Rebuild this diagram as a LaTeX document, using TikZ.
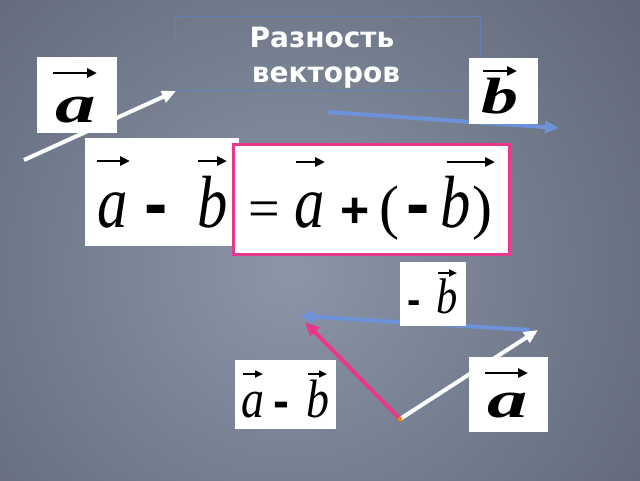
\documentclass[tikz,border=0pt]{standalone}
\usepackage{fontspec}
\usepackage{graphicx}
\setmainfont{Liberation Serif}
\newfontfamily\titlefont{DejaVu Sans}
\newfontfamily\sansfont{Liberation Sans}
\usetikzlibrary{arrows.meta}
\definecolor{bgin}{RGB}{140,150,168}
\definecolor{bgout}{RGB}{54,60,76}
\definecolor{vblue}{RGB}{108,146,218}
\definecolor{vpink}{RGB}{232,56,140}
\definecolor{tline}{RGB}{100,126,184}
\newcommand\fs[1]{\fontsize{#1}{#1}\selectfont}
\begin{document}
\begin{tikzpicture}[x=1pt,y=-1pt,
  wbox/.style={fill=white, draw=none, inner sep=0, anchor=north west},
  gl/.style={anchor=base, inner sep=0, text=black},
  garrow/.style={line width=2.8pt, -{Triangle[length=10pt,width=9pt]}},
  sarrow/.style={line width=2.2pt, -{Triangle[length=8pt,width=7pt]}},
  vecw/.style={line width=4pt, white, -{Triangle[length=14pt,width=12pt]}},
  vecb/.style={line width=4pt, vblue, -{Triangle[length=14pt,width=12pt]}},
  vecp/.style={line width=4pt, vpink, -{Triangle[length=14pt,width=12pt]}},
  ttl/.style={anchor=base, inner sep=0, text=white, font=\titlefont\bfseries\fs{28}}
]
\useasboundingbox (0,0) rectangle (640,480);
\begin{scope}
\clip (0,0) rectangle (640,480);
\shade[inner color=bgin, outer color=bgout] (290,270) circle (840);
\end{scope}

% title
\node[draw=tline, line width=0.8pt, minimum width=305pt, minimum height=74pt, inner sep=0, anchor=north west] (tbox) at (175,16) {};
\node[ttl] (t1) at (322,47) {Разность};
\node[ttl] (t2) at (326,82) {векторов};

% vector a (top left)
\coordinate (a1s) at (24,160);
\coordinate (a1e) at (176,91);
\draw[vecw] (a1s) -- (a1e);
\node[wbox, minimum width=80pt, minimum height=76pt] (boxA) at (37,57) {};
\draw[garrow] (53,73) -- (97,73);
\node[gl, font=\fs{54}\bfseries\itshape] (ga1) at (76,122) {\scalebox{1.5}[1]{a}};

% vector b (top right)
\coordinate (b1s) at (328,112);
\coordinate (b1e) at (559,128);
\draw[vecb] (b1s) -- (b1e);
\node[wbox, minimum width=69pt, minimum height=66pt] (boxB) at (469,58) {};
\draw[garrow] (483,71) -- (517,71);
\node[gl, font=\fs{51}\bfseries\itshape] (gb1) at (500,113) {\scalebox{1.45}[1]{b}};

% a - b box
\node[wbox, minimum width=154pt, minimum height=108pt] (boxAB) at (85,138) {};
\draw[garrow] (97,161) -- (130,161);
\draw[garrow] (198,161) -- (227,161);
\node[gl, font=\fs{74}\itshape] (g1) at (112.5,227) {\scalebox{0.82}[1]{a}};
\node[gl, font=\sansfont\bfseries\fs{70}] (g2) at (156.5,227) {-};
\node[gl, font=\fs{74}\itshape] (g3) at (212.5,227) {\scalebox{0.82}[1]{b}};

% = a + (-b) box
\node[wbox, draw=vpink, line width=3pt, minimum width=276pt, minimum height=110pt] (boxEq) at (232,143) {};
\node[gl, font=\fs{56}] (g4) at (264,227) {=};
\draw[garrow] (296,162) -- (325,162);
\node[gl, font=\fs{74}\itshape] (g5) at (310,227) {\scalebox{0.82}[1]{a}};
\node[gl, font=\sansfont\bfseries\fs{50}] (g6) at (355,227) {+};
\node[gl, font=\fs{60}] (g7) at (389,227) {(};
\node[gl, font=\sansfont\bfseries\fs{70}] (g8) at (418.5,227) {-};
\node[gl, font=\fs{74}\itshape] (g9) at (455.5,227) {\scalebox{0.82}[1]{b}};
\node[gl, font=\fs{60}] (g10) at (482.5,227) {)};
\draw[garrow] (447,162) -- (495,162);

% triangle construction
\coordinate (O) at (400,419);
\coordinate (P) at (538,330);
\coordinate (Q1) at (530,330);
\coordinate (Q) at (300,316);
\coordinate (R) at (305,322);
\draw[vecb] (Q1) -- (Q);
\node[wbox, minimum width=66pt, minimum height=64pt] (boxMB) at (400,262) {};
\node[gl, font=\sansfont\bfseries\fs{40}] (g11) at (414,313) {-};
\node[gl, font=\fs{50}\itshape] (g12) at (447.5,313) {\scalebox{0.85}[1]{b}};
\draw[sarrow] (438,273) -- (457,273);

\draw[vecw] (O) -- (P);
\node[wbox, minimum width=79pt, minimum height=75pt] (boxA2) at (469,357) {};
\draw[garrow] (485,373) -- (528,373);
\node[gl, font=\fs{52}\bfseries\itshape] (ga2) at (507.5,417) {\scalebox{1.55}[1]{a}};

\draw[vecp] (O) -- (R);
\fill[orange] (O) circle (2.2);

\node[wbox, minimum width=101pt, minimum height=69pt] (boxAB2) at (235,360) {};
\draw[sarrow] (243,374) -- (263,374);
\draw[sarrow] (308,374) -- (327,374);
\node[gl, font=\fs{54}\itshape] (g13) at (252.5,417) {\scalebox{0.85}[1]{a}};
\node[gl, font=\sansfont\bfseries\fs{48}] (g14) at (281.5,417) {-};
\node[gl, font=\fs{54}\itshape] (g15) at (318,417) {\scalebox{0.85}[1]{b}};
\end{tikzpicture}
\end{document}
